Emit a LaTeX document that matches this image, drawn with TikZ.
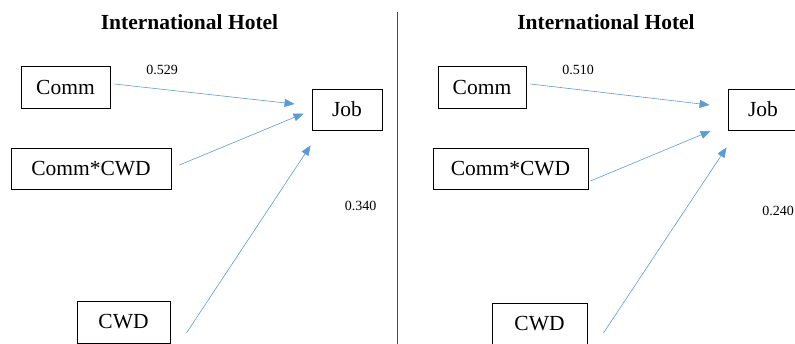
\documentclass[tikz,border=0pt]{standalone}
\usepackage{fontspec}
\setmainfont{Liberation Serif}
\usetikzlibrary{arrows.meta,calc}
\definecolor{arrblue}{HTML}{5B9BD5}
\tikzset{
  box/.style={draw=black, line width=0.9pt, inner sep=0pt, minimum height=41pt,
    font=\fontsize{21.5}{24}\selectfont},
  ttl/.style={font=\fontsize{21.5}{24}\selectfont\bfseries, inner sep=0pt},
  coef/.style={font=\fontsize{14}{16}\selectfont, inner sep=0pt},
  arr/.style={draw=arrblue, line width=0.6pt, -{Triangle[length=10pt,width=8pt]}},
  divider/.style={draw=black!70, line width=0.9pt}
}
\begin{document}
\begin{tikzpicture}[x=1pt,y=-1pt]
\useasboundingbox (0,0) rectangle (795,344);
\clip (0,0) rectangle (795,344);
% left panel
\node[ttl] (title1) at (189.5,22) {International Hotel};
\node[box, minimum width=89pt, minimum height=42pt] (comm1) at (65.5,87) {Comm};
\node[box, minimum width=70pt] (job1) at (347,109.5) {Job\hspace{12pt}};
\node[box, minimum width=160pt] (cc1) at (91,168.5) {Comm*CWD\hspace{10pt}};
\node[box, minimum width=93pt, minimum height=42pt] (cwd1) at (123.5,322) {CWD\hspace{16pt}};
\node[coef] (l529) at (162,70) {0.529};
\node[coef] (l340) at (360.5,206) {0.340};
\draw[arr] ($(comm1.east)+(4,-3)$) -- ($(job1.west)+(-17,-5.5)$);
\draw[arr] ($(cc1.east)+(8,-3.5)$) -- ($(job1.west)+(-8,4)$);
\draw[arr] ($(cwd1.east)+(16,11)$) -- ($(job1.south west)+(-1,15)$);
% divider
\coordinate (dtop) at (397.5,12);
\coordinate (dbot) at (397.5,344);
\draw[divider] (dtop) -- (dbot);
% right panel
\node[ttl] (title2) at (606,22) {International Hotel};
\node[box, minimum width=88pt, minimum height=42pt] (comm2) at (482,87) {Comm};
\node[box, minimum width=70pt] (job2) at (763,109.5) {Job\hspace{12pt}};
\node[box, minimum width=155pt] (cc2) at (510.5,168.5) {Comm*CWD\hspace{4pt}};
\node[box, minimum width=95pt, minimum height=42pt] (cwd2) at (539.5,324) {CWD\hspace{14pt}};
\node[coef] (l510) at (578,70) {0.510};
\node[coef] (l240) at (778,211) {0.240};
\draw[arr] ($(comm2.east)+(4,-3)$) -- ($(job2.west)+(-18,-4.5)$);
\draw[arr] ($(cc2.east)+(2,12.5)$) -- ($(job2.west)+(-17,21.5)$);
\draw[arr] ($(cwd2.east)+(16,9)$) -- ($(job2.south west)+(-1,17)$);
\end{tikzpicture}
\end{document}
